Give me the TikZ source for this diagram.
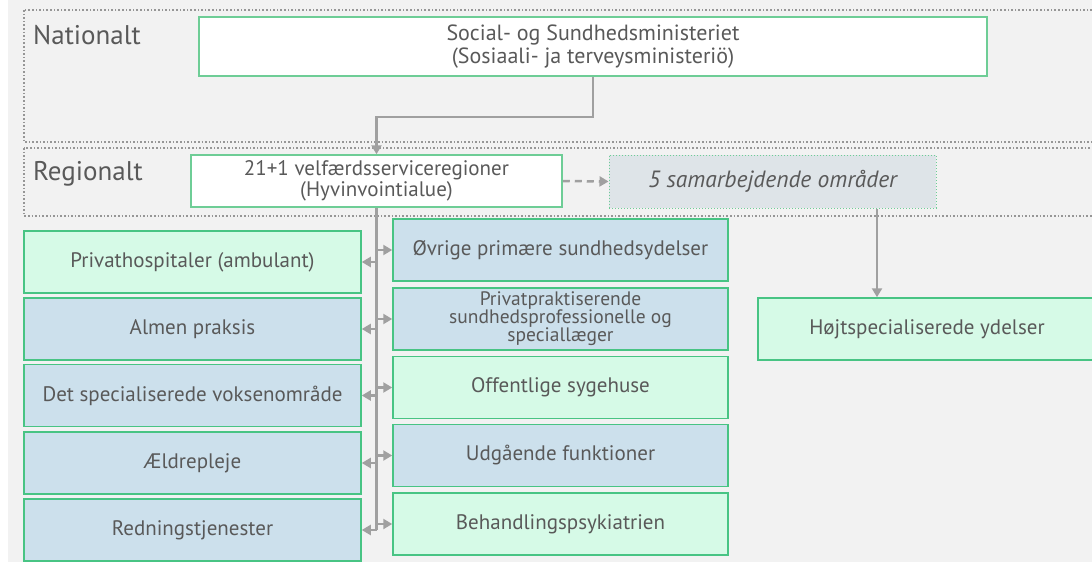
\documentclass[tikz,border=0pt]{standalone}
\usepackage{fontspec}
\setmainfont{PT Sans}
\usetikzlibrary{arrows.meta, positioning, calc}

\definecolor{bggray}{RGB}{242,242,242}
\definecolor{txtgray}{RGB}{89,89,89}
\definecolor{framegray}{RGB}{150,150,150}
\definecolor{arrgray}{RGB}{160,160,160}
\definecolor{boxgreen}{RGB}{72,196,132}
\definecolor{lightline}{RGB}{110,205,150}
\definecolor{fillgreen}{RGB}{214,250,231}
\definecolor{fillblue}{RGB}{204,224,236}
\definecolor{fillgrayblue}{RGB}{222,228,232}

\tikzset{
  unitbox/.style={draw=boxgreen, line width=1.5pt, text=txtgray, align=center,
    inner sep=2pt, font=\fontsize{21}{21}\selectfont},
  greenbox/.style={unitbox, fill=fillgreen},
  bluebox/.style={unitbox, fill=fillblue},
  levelbox/.style={draw=lightline, line width=1.5pt, fill=white, text=txtgray,
    align=center, inner sep=2pt},
  levelframe/.style={draw=framegray, dotted, line width=1.6pt},
  levellabel/.style={text=txtgray, anchor=base west, inner sep=0pt,
    font=\fontsize{27}{27}\selectfont},
  arr/.style={draw=arrgray, line width=2.5pt, -{Triangle[length=9pt,width=10pt]}},
  trunkline/.style={draw=arrgray, line width=2.5pt}
}

\begin{document}
\begin{tikzpicture}[x=1pt, y=-1pt]
\useasboundingbox (0,0) rectangle (1092,562);
\fill[bggray] (8,0) rectangle (1100,562);

% levels
\draw[levelframe] (24,10) rectangle (1110,142);
\draw[levelframe] (24,148) rectangle (1110,216);
\node[levellabel] (natlabel) at (33,44) {Nationalt};
\node[levellabel] (reglabel) at (33,180) {Regionalt};

\node[levelbox, minimum width=788pt, minimum height=59pt,
  font=\fontsize{22}{23}\selectfont] (ministry) at (593,46.5)
  {Social- og Sundhedsministeriet\\(Sosiaali- ja terveysministeriö)};
\node[levelbox, minimum width=371pt, minimum height=52pt,
  font=\fontsize{21}{19}\selectfont] (region) at (376.5,181)
  {21+1 velfærdsserviceregioner\\(Hyvinvointialue)};
\node[draw=lightline, dotted, line width=1pt, fill=fillgrayblue, text=txtgray,
  minimum width=327pt, minimum height=53pt,
  font=\fontsize{23.5}{23.5}\selectfont\itshape] (areas) at (772.5,181.5)
  {5 samarbejdende områder};

% left column
\node[greenbox, minimum width=337pt, minimum height=62pt] (l1) at (192.5,262) {Privathospitaler (ambulant)};
\node[bluebox, minimum width=337pt, minimum height=62pt] (l2) at (192.5,329) {Almen praksis};
\node[bluebox, minimum width=337pt, minimum height=62pt] (l3) at (192.5,395.5) {Det specialiserede voksenområde};
\node[bluebox, minimum width=337pt, minimum height=62pt] (l4) at (192.5,463) {Ældrepleje};
\node[bluebox, minimum width=337pt, minimum height=62pt] (l5) at (192.5,530) {Redningstjenester};

% right column
\node[bluebox, minimum width=335pt, minimum height=62pt] (r1) at (560.5,250) {Øvrige primære sundhedsydelser};
\node[bluebox, minimum width=335pt, minimum height=62pt, font=\fontsize{19.5}{18}\selectfont] (r2) at (560.5,319)
  {Privatpraktiserende\\sundhedsprofessionelle og\\speciallæger};
\node[greenbox, minimum width=335pt, minimum height=62pt] (r3) at (560.5,387.5) {Offentlige sygehuse};
\node[bluebox, minimum width=335pt, minimum height=62pt] (r4) at (560.5,455.5) {Udgående funktioner};
\node[greenbox, minimum width=335pt, minimum height=62pt] (r5) at (560.5,524) {Behandlingspsykiatrien};

\node[greenbox, minimum width=338pt, minimum height=62pt] (special) at (927,329) {Højtspecialiserede ydelser};

% connectors
\draw[arr] (ministry.south) -- ++(0,40) -| (region.north);
\draw[arr, dashed, dash pattern=on 7pt off 5pt] (region.east) -- (areas.west);
\draw[arr] ([xshift=104.5pt]areas.south) -- ([xshift=104.5pt]areas.south |- special.north);
\draw[trunkline] (region.south) -- (region.south |- l5.east);
\foreach \i in {1,...,5}{
  \draw[arr] (region.south |- l\i.east) -- (l\i.east);
  \draw[arr] (region.south |- r\i.west) -- (r\i.west);
}
\end{tikzpicture}
\end{document}
